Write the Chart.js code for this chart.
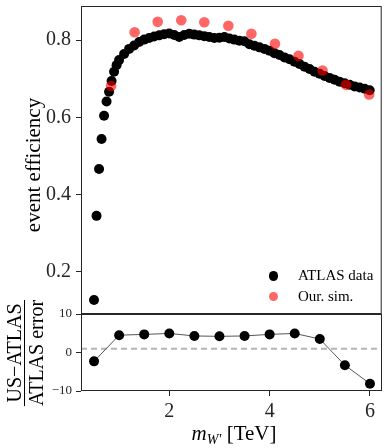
<!DOCTYPE html>
<html>
<head>
<meta charset="utf-8">
<script src="https://cdn.jsdelivr.net/npm/chart.js@4"></script>
<style>
  body { margin: 0; background: #fff; }
  #wrap { position: relative; width: 387px; height: 448px; overflow: hidden;
          font-family: "Liberation Serif", serif; color: #000; }
  #wrap canvas { position: absolute; left: 0; }
  .rot { position: absolute; white-space: nowrap; transform: translate(-50%, -50%) rotate(-90deg); }
  #effTitle { left: 32.5px; top: 165px; font-size: 21px; }
  #pullTitle { left: 25px; top: 352.5px; font-size: 20px; line-height: 1; display: flex;
               flex-direction: column; align-items: center; }
  #pullTitle .den { border-top: 1px solid #000; padding-top: 1px; }
  #massTitle { position: absolute; left: 81px; width: 306px; top: 421px; text-align: center;
               font-size: 21px; line-height: 24px; }
  #massTitle sub { font-size: 14px; vertical-align: -4px; }
  #legend { position: absolute; left: 268.5px; top: 265.5px; font-size: 15px; }
  #legend .row { display: flex; align-items: center; height: 20.7px; }
  #legend .dot { width: 9.4px; height: 9.4px; border-radius: 50%; margin-right: 20px; }
</style>
</head>
<body>
<div id="wrap">
  <canvas id="eff" width="387" height="320" style="top:0"></canvas>
  <canvas id="pull" width="387" height="148" style="top:300px"></canvas>
  <div id="effTitle" class="rot">event efficiency</div>
  <div id="pullTitle" class="rot"><span class="num">US−ATLAS</span><span class="den">ATLAS error</span></div>
  <div id="massTitle"><i>m</i><sub><i>W′</i></sub> [TeV]</div>
  <div id="legend"></div>
</div>
<script>
// ATLAS efficiency curve (TeV, efficiency)
const massAtlas = [0.50, 0.55, 0.60, 0.65, 0.70, 0.75, 0.80, 0.85, 0.90, 0.95, 1.00,
  1.1, 1.2, 1.3, 1.4, 1.5, 1.6, 1.7, 1.8, 1.9, 2.0,
  2.1, 2.2, 2.3, 2.4, 2.5, 2.6, 2.7, 2.8, 2.9, 3.0,
  3.1, 3.2, 3.3, 3.4, 3.5, 3.6, 3.7, 3.8, 3.9, 4.0,
  4.1, 4.2, 4.3, 4.4, 4.5, 4.6, 4.7, 4.8, 4.9, 5.0,
  5.1, 5.2, 5.3, 5.4, 5.5, 5.6, 5.7, 5.8, 5.9, 6.0];
const effAtlas = [0.127, 0.345, 0.466, 0.544, 0.604, 0.641, 0.666, 0.694, 0.718, 0.735, 0.748,
  0.764, 0.777, 0.786, 0.795, 0.801, 0.805, 0.809, 0.812, 0.815, 0.817,
  0.813, 0.808, 0.813, 0.816, 0.814, 0.812, 0.810, 0.808, 0.805, 0.806,
  0.808, 0.804, 0.801, 0.798, 0.797, 0.789, 0.785, 0.781, 0.777, 0.772,
  0.766, 0.761, 0.755, 0.750, 0.744, 0.738, 0.731, 0.725, 0.718, 0.713,
  0.707, 0.702, 0.697, 0.692, 0.688, 0.684, 0.680, 0.677, 0.674, 0.670];

// our simulation
const massSim = [0.84, 1.31, 1.77, 2.24, 2.70, 3.18, 3.64, 4.11, 4.58, 5.06, 5.53, 5.99];
const effSim  = [0.681, 0.820, 0.847, 0.851, 0.846, 0.837, 0.816, 0.790, 0.759, 0.721, 0.684, 0.659];

// (US - ATLAS) / ATLAS error
const massPull = [0.5, 1.0, 1.5, 2.0, 2.5, 3.0, 3.5, 4.0, 4.5, 5.0, 5.5, 6.0];
const pullVals = [-2.3, 4.5, 4.7, 4.95, 4.3, 4.2, 4.3, 4.7, 4.95, 3.5, -3.3, -8.1];
const refLevel = 1;

const effTicks = [0.2, 0.4, 0.6, 0.8];
const pullTicks = [-10, 0, 10];
const massTicks = [2, 4, 6];

const X_MIN = 0.24, X_MAX = 6.24;
const INK = '#262626';
const serif = '"Liberation Serif", serif';

const pts = (xs, ys) => xs.map((x, i) => ({ x, y: ys[i] }));

const frame = {
  id: 'frame',
  afterDatasetsDraw(chart) {
    const { ctx, chartArea: a } = chart;
    ctx.save();
    ctx.strokeStyle = INK;
    ctx.lineWidth = 1;
    ctx.strokeRect(a.left + .5, a.top + .5, a.width - 1, a.height - 1);
    ctx.restore();
  }
};

function yAxis(min, max, ticks, size, pad, fmt) {
  return {
    min, max,
    // fixed gutter, and no extra room for half tick labels
    afterFit: s => { s.width = 81; s.paddingTop = 0; s.paddingBottom = 0; },
    afterBuildTicks: s => { s.ticks = ticks.map(v => ({ value: v })); },
    grid: { drawOnChartArea: false, tickLength: 5, color: INK },
    border: { display: false },
    ticks: { color: INK, padding: pad, font: { family: serif, size }, callback: fmt }
  };
}

const effChart = new Chart(document.getElementById('eff'), {
  type: 'scatter',
  data: { datasets: [
    { label: 'Our. sim.', data: pts(massSim, effSim), backgroundColor: 'rgba(255,0,0,0.6)',
      pointRadius: 5.3, borderWidth: 0, order: 0 },
    { label: 'ATLAS data', data: pts(massAtlas, effAtlas), backgroundColor: '#000',
      pointRadius: 5, borderWidth: 0, order: 1 }
  ] },
  options: {
    responsive: false, animation: false,
    layout: { padding: { top: 6, bottom: 6, left: 0, right: 0 } },
    plugins: { legend: { display: false }, tooltip: { enabled: false } },
    scales: {
      x: { type: 'linear', min: X_MIN, max: X_MAX, display: false },
      y: yAxis(0.091, 0.888, effTicks, 20, 5, v => v.toFixed(1))
    }
  },
  plugins: [frame]
});

new Chart(document.getElementById('pull'), {
  type: 'scatter',
  data: { datasets: [
    { data: pts(massPull, pullVals), showLine: true, borderColor: '#555', borderWidth: 1,
      pointBackgroundColor: '#000', pointRadius: 5, pointBorderWidth: 0, order: 0 },
    { data: pts([X_MIN, X_MAX], [refLevel, refLevel]), showLine: true, borderColor: '#b5b5b5',
      borderWidth: 2, borderDash: [6, 4], pointRadius: 0, order: 1 }
  ] },
  options: {
    responsive: false, animation: false,
    layout: { padding: { top: 14, bottom: 0, left: 0, right: 0 } },
    plugins: { legend: { display: false }, tooltip: { enabled: false } },
    scales: {
      x: {
        type: 'linear', min: X_MIN, max: X_MAX,
        afterFit: s => { s.height = 57; s.paddingLeft = 0; s.paddingRight = 0; },
        afterBuildTicks: s => { s.ticks = massTicks.map(v => ({ value: v })); },
        grid: { drawOnChartArea: false, tickLength: 5, color: INK },
        border: { display: false },
        ticks: { color: INK, padding: 4, maxRotation: 0, font: { family: serif, size: 20 } }
      },
      y: yAxis(-10, 10, pullTicks, 13, 4, v => v < 0 ? '\u2212' + Math.abs(v) : String(v))
    }
  },
  plugins: [frame]
});

// legend inside the upper panel
const legend = document.getElementById('legend');
[1, 0].forEach(i => {
  const ds = effChart.data.datasets[i];
  const row = document.createElement('div');
  row.className = 'row';
  const dot = document.createElement('span');
  dot.className = 'dot';
  dot.style.background = ds.backgroundColor;
  const txt = document.createElement('span');
  txt.textContent = ds.label;
  row.append(dot, txt);
  legend.append(row);
});
</script>
</body>
</html>
